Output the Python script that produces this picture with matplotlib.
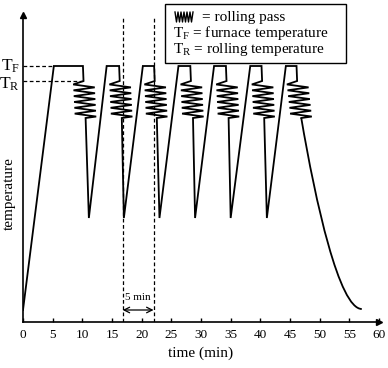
import numpy as np
import matplotlib
matplotlib.use("Agg")
import matplotlib.pyplot as plt
from matplotlib.patches import Rectangle, PathPatch
from matplotlib.lines import Line2D
from matplotlib.path import Path

plt.rcParams['font.family'] = ['Liberation Serif', 'DejaVu Serif']
plt.rcParams['mathtext.fontset'] = 'stix'

# temperature levels (arbitrary units, no scale on the axis)
t_start = 12
t_furnace = 256
t_rolling = 241
pass_top = 239
pass_bottom = 204
t_min = 104

# times of each reheat / rolling cycle (min)
top_start = [5.2, 14.1, 20.2, 26.2, 32.2, 38.3, 44.3]
top_end = [10.1, 16.2, 22.1, 28.2, 34.2, 40.2, 46.1]
cool_end = [11.1, 17.0, 23.0, 29.0, 35.0, 41.1]

# final cooling after last pass: end point and bezier control points
cool_ctrl_time = [49.3, 53.3, 57.1]
cool_ctrl_temp = [120, 13, 13]

# marked interval
interval = [16.8, 22.0]
interval_label = "5 min"

xticks = list(range(0, 61, 5))

# zigzag glyph for a rolling pass
n_teeth = 12
amp = 1.8


def pass_zigzag(x0, x1):
    step = (pass_top - pass_bottom) / n_teeth
    zx, zy = [], []
    for k in range(n_teeth):
        frac = (k + 0.5) / n_teeth
        c = x0 + (x1 - x0) * frac
        zx.append(c - amp if k % 2 == 0 else c + amp)
        zy.append(pass_top - (k + 0.5) * step)
    zx.append(x1)
    zy.append(pass_bottom)
    return zx, zy


xs = [0.0]
ys = [t_start]
for i in range(len(top_start)):
    xs += [top_start[i], top_end[i], top_end[i] + 0.1]
    ys += [t_furnace, t_furnace, t_rolling]
    last = i == len(top_start) - 1
    zx, zy = pass_zigzag(top_end[i] + 0.15, top_end[i] + (0.8 if last else 0.45))
    xs += zx
    ys += zy
    if not last:
        xs.append(cool_end[i])
        ys.append(t_min)

fig = plt.figure(figsize=(3.88, 3.68), dpi=100)
ax = fig.add_axes([23 / 388, 46 / 368, 356 / 388, 307 / 368])

ax.plot(xs, ys, color='black', lw=1.3, solid_joinstyle='miter')

# smooth final cooling curve
verts = [(xs[-1], ys[-1])] + list(zip(cool_ctrl_time, cool_ctrl_temp))
curve = Path(verts, [Path.MOVETO, Path.CURVE4, Path.CURVE4, Path.CURVE4])
ax.add_patch(PathPatch(curve, fill=False, ec='black', lw=1.3))

# reference levels
ax.plot([0, top_start[0]], [t_furnace, t_furnace], color='black', lw=0.9, ls=(0, (3, 2)))
ax.plot([0, top_end[0]], [t_rolling, t_rolling], color='black', lw=0.9, ls=(0, (3, 2)))
ax.text(-0.5, t_furnace, r'$\mathregular{T_F}$', ha='right', va='center', fontsize=12.5, clip_on=False)
ax.text(-0.5, t_rolling - 3, r'$\mathregular{T_R}$', ha='right', va='center', fontsize=12.5, clip_on=False)

# 5 min interval
for xv in interval:
    ax.plot([xv, xv], [0, 304], color='black', lw=0.9, ls=(0, (3, 2)))
ax.annotate('', xy=(interval[0], 12), xytext=(interval[1], 12),
            arrowprops=dict(arrowstyle='<->', color='black', lw=0.9, shrinkA=0, shrinkB=0))
ax.text(sum(interval) / 2, 25, interval_label, ha='center', va='center', fontsize=8)

ax.set_xlim(0, 60)
ax.set_ylim(0, 307)
ax.set_xticks(xticks)
ax.set_yticks([])
ax.tick_params(axis='x', direction='in', length=3, width=1, labelsize=9.5, pad=5)
for s in ['top', 'right']:
    ax.spines[s].set_visible(False)
for s in ['left', 'bottom']:
    ax.spines[s].set_linewidth(1.2)
ax.plot(1, 0, '>k', ms=5, transform=ax.transAxes, clip_on=False)
ax.plot(0, 1, '^k', ms=5, transform=ax.transAxes, clip_on=False)

ax.set_xlabel('time (min)', fontsize=11, labelpad=4)
ax.set_ylabel('temperature', fontsize=11, va='center')
ax.yaxis.set_label_coords(-0.038, 0.417)

# legend box
fig.patches.append(Rectangle((165 / 388, 1 - 63 / 368), 181 / 388, 59 / 368,
                             transform=fig.transFigure, fill=False, ec='black', lw=1.0))
gx = np.linspace(175, 193, 13) / 388
gy = [1 - (12 if k % 2 == 0 else 22) / 368 for k in range(13)]
fig.lines.append(Line2D(gx, gy, transform=fig.transFigure, color='black', lw=1.0))
fig.text(202 / 388, 1 - 17 / 368, '= rolling pass', ha='left', va='center', fontsize=11)
fig.text(173 / 388, 1 - 33.5 / 368, r'$\mathregular{T_F}$ = furnace temperature', ha='left', va='center', fontsize=11)
fig.text(173 / 388, 1 - 50 / 368, r'$\mathregular{T_R}$ = rolling temperature', ha='left', va='center', fontsize=11)

fig.savefig('out.png', dpi=100)
